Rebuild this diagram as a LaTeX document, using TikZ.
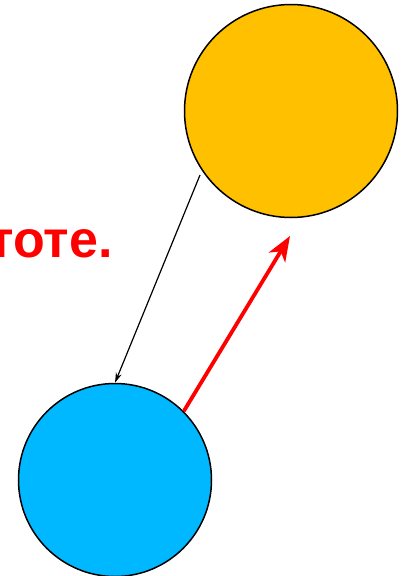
\documentclass[tikz,border=0pt]{standalone}
\usepackage{fontspec}
\setmainfont{Liberation Sans}
\usetikzlibrary{arrows.meta}
\definecolor{orangec}{HTML}{FFC000}
\definecolor{bluec}{HTML}{00B8FF}
\begin{document}
\begin{tikzpicture}[x=1pt,y=-1pt,
  ball/.style={circle,draw=black,line width=1.5pt,inner sep=0pt},
  lbl/.style={text=red,font=\bfseries\fontsize{52}{58}\selectfont,inner sep=0pt,anchor=base east}]
\useasboundingbox (0,0) rectangle (403,576);
\clip (0,0) rectangle (403,576);
\node[ball,fill=orangec,minimum size=213pt] (orange) at (291,111) {};
\node[ball,fill=bluec,minimum size=193pt] (blue) at (115,480) {};
\node[lbl] (txt) at (113,257) {частоте.};
\coordinate (bstart) at (200,175);
\coordinate (rend) at (290,236);
\draw[line width=1.2pt,-{Stealth[length=10pt,width=6pt]}] (bstart) -- (blue.north);
\draw[red,line width=3.8pt,-{Stealth[length=25pt,width=19pt,inset=7pt]}] (blue.45) -- (rend);
\end{tikzpicture}
\end{document}
